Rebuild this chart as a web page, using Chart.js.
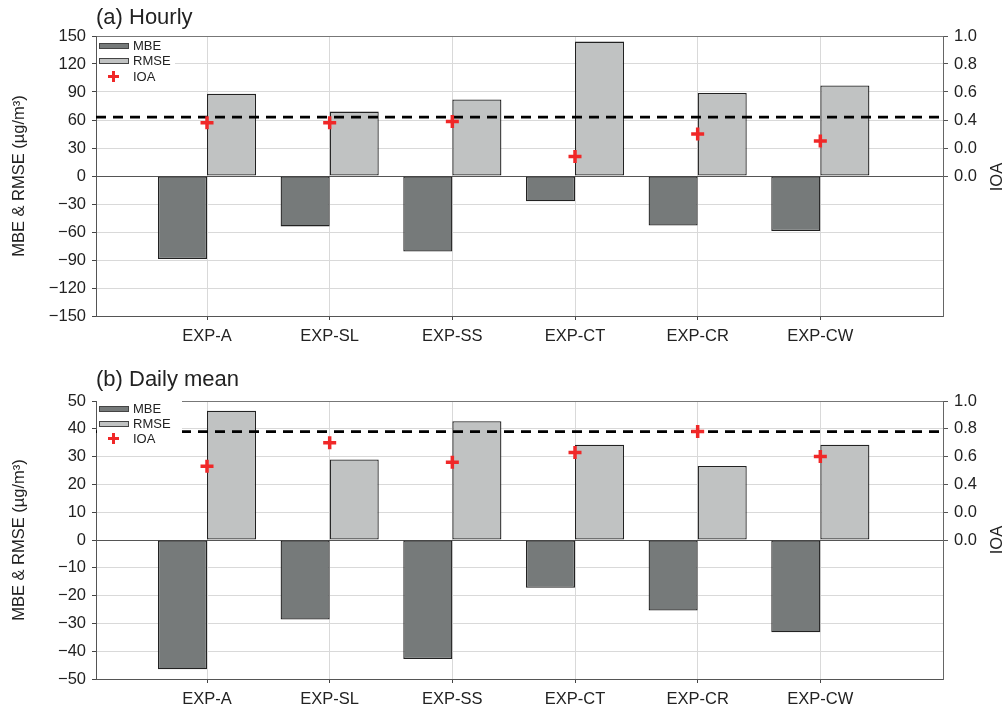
<!DOCTYPE html>
<html><head><meta charset="utf-8">
<script src="https://cdn.jsdelivr.net/npm/chart.js@4/dist/chart.umd.min.js"></script>
<style>
html,body{margin:0;padding:0;background:#fff;overflow:hidden;width:1006px;height:709px;}
canvas{position:absolute;left:0;}
.ttl{position:absolute;font-family:"Liberation Sans",Arial,sans-serif;font-size:22px;color:#222;white-space:nowrap;line-height:24px;}
.leg{position:absolute;background:#fff;font-family:"Liberation Sans",Arial,sans-serif;font-size:13px;color:#222;}
.row{position:absolute;left:0;width:100%;height:15px;}
.sw{position:absolute;left:2px;width:28px;height:4px;border:1px solid #444;top:5px;}
.lt{position:absolute;left:36px;top:0;line-height:15px;white-space:nowrap;}
.ch{position:absolute;background:#f02828;}
.ioa{position:absolute;width:60px;height:20px;line-height:20px;text-align:center;transform:rotate(-90deg);font-family:"Liberation Sans",Arial,sans-serif;font-size:16.5px;color:#222;}
</style></head>
<body>
<canvas id="c1" width="1006" height="346" style="top:0px"></canvas>
<canvas id="c2" width="1006" height="349" style="top:360px"></canvas>
<div class="ttl" style="left:96px;top:5px">(a) Hourly</div>
<div class="ttl" style="left:96px;top:367px">(b) Daily mean</div>
<div class="ioa" style="left:966px;top:167px">IOA</div>
<div class="ioa" style="left:966px;top:530px">IOA</div>

<div class="leg" style="left:97px;top:37px;width:78px;height:50px">
  <div class="row" style="top:1px"><div class="sw" style="background:#767a7a"></div><div class="lt">MBE</div></div>
  <div class="row" style="top:16px"><div class="sw" style="background:#c0c2c2"></div><div class="lt">RMSE</div></div>
  <div class="row" style="top:32px"><div class="ch" style="left:11px;top:6px;width:11px;height:3px"></div><div class="ch" style="left:15px;top:2px;width:3px;height:11px"></div><div class="lt">IOA</div></div>
</div>
<div class="leg" style="left:97px;top:401px;width:85px;height:47px">
  <div class="row" style="top:0px"><div class="sw" style="background:#767a7a"></div><div class="lt">MBE</div></div>
  <div class="row" style="top:15px"><div class="sw" style="background:#c0c2c2"></div><div class="lt">RMSE</div></div>
  <div class="row" style="top:30px"><div class="ch" style="left:11px;top:6px;width:11px;height:3px"></div><div class="ch" style="left:15px;top:2px;width:3px;height:11px"></div><div class="lt">IOA</div></div>
</div>

<script>
const categories = ['EXP-A','EXP-SL','EXP-SS','EXP-CT','EXP-CR','EXP-CW'];

const hourlyMBE  = [-89, -54, -81, -27, -53, -59];
const hourlyRMSE = [88, 69, 82, 144, 89, 97];
const hourlyIOA  = [0.38, 0.38, 0.39, 0.14, 0.30, 0.25];
const hourlyRef  = 0.42;

const dailyMBE  = [-46.5, -28.6, -42.8, -17.2, -25.4, -33.2];
const dailyRMSE = [46.5, 29.0, 42.7, 34.3, 26.6, 34.3];
const dailyIOA  = [0.53, 0.70, 0.56, 0.63, 0.78, 0.60];
const dailyRef  = 0.78;

const ioaTickValues = [0, 0.2, 0.4, 0.6, 0.8, 1.0];
const ioaTickLabels = ['0.0', '0.0', '0.4', '0.6', '0.8', '1.0'];

Chart.defaults.font.family = '"Liberation Sans", Arial, sans-serif';
Chart.defaults.color = '#222';

const X_MIN = 0.095, X_MAX = 7;
const FS = 16.5;
const fmt = v => v < 0 ? '\u2212' + Math.abs(v) : String(v);

function makeChart(id, cfg) {
  const pts = arr => arr.map((v, i) => ({x: i + 1, y: v}));
  return new Chart(document.getElementById(id), {
    type: 'bar',
    data: {
      datasets: [
        {label: 'MBE', data: pts(cfg.mbe), backgroundColor: '#767a7a', borderColor: '#222',
         borderWidth: 1.3, borderSkipped: false, categoryPercentage: 0.8, barPercentage: 1.0, order: 3},
        {label: 'RMSE', data: pts(cfg.rmse), backgroundColor: '#c0c2c2', borderColor: '#222',
         borderWidth: 1.3, borderSkipped: false, categoryPercentage: 0.8, barPercentage: 1.0, order: 3},
        {type: 'line', label: 'ref', data: [{x: X_MIN, y: cfg.ref}, {x: X_MAX, y: cfg.ref}],
         yAxisID: 'yIOA', borderColor: '#000', borderWidth: 2.7, borderDash: [10, 7],
         pointRadius: 0, fill: false, order: 2},
        {type: 'scatter', label: 'IOA', data: pts(cfg.ioa), yAxisID: 'yIOA',
         pointStyle: 'cross', pointRadius: 6.5, borderWidth: 3.5, borderColor: '#f02828',
         backgroundColor: '#f02828', order: 1}
      ]
    },
    options: {
      responsive: false, animation: false, devicePixelRatio: 1,
      events: [],
      layout: {padding: {top: cfg.padTop, left: 0, right: 0, bottom: 0}},
      plugins: {legend: {display: false}, tooltip: {enabled: false}, title: {display: false}},
      scales: {
        x: {
          type: 'linear', position: 'bottom', min: X_MIN, max: X_MAX, offset: false,
          afterBuildTicks: s => { s.ticks = categories.map((c, i) => ({value: i + 1})); },
          afterFit: s => { s.height = 30; },
          ticks: {callback: (v) => categories[Math.round(v) - 1], font: {size: FS}, color: '#222',
                  padding: 7, maxRotation: 0, autoSkip: false},
          grid: {offset: false, color: '#d9d9d9', tickColor: '#444', tickLength: 4, lineWidth: 1},
          border: {color: '#555', width: 1}
        },
        xTop: {
          type: 'linear', position: 'top', min: X_MIN, max: X_MAX, offset: false,
          afterFit: s => { s.height = 0; },
          ticks: {display: false}, grid: {display: false},
          border: {display: true, color: '#777', width: 1}
        },
        y: {
          position: 'left', min: cfg.yMin, max: cfg.yMax,
          afterFit: s => { s.width = 96; },
          ticks: {stepSize: cfg.step, callback: v => fmt(v), font: {size: FS}, color: '#222', padding: 6},
          grid: {color: ctx => ctx.tick && ctx.tick.value === 0 ? '#555' : '#d9d9d9',
                 tickColor: '#444', tickLength: 4},
          border: {color: '#555', width: 1},
          title: {display: true, text: 'MBE & RMSE (\u00b5g/m\u00b3)', font: {size: FS}, color: '#222',
                  padding: {top: 10, bottom: 0}}
        },
        yIOA: {
          position: 'right', min: -1, max: 1,
          afterBuildTicks: s => { s.ticks = ioaTickValues.map(v => ({value: v})); },
          afterFit: s => { s.width = 63; },
          ticks: {callback: (v, i) => ioaTickLabels[i], font: {size: FS}, color: '#222', padding: 6, autoSkip: false},
          grid: {drawOnChartArea: false, tickColor: '#555', tickLength: 5},
          border: {color: '#666', width: 1}
        }
      }
    }
  });
}

makeChart('c1', {mbe: hourlyMBE, rmse: hourlyRMSE, ioa: hourlyIOA, ref: hourlyRef,
                 yMin: -150, yMax: 150, step: 30, padTop: 36});
makeChart('c2', {mbe: dailyMBE, rmse: dailyRMSE, ioa: dailyIOA, ref: dailyRef,
                 yMin: -50, yMax: 50, step: 10, padTop: 41});
</script>
</body></html>
